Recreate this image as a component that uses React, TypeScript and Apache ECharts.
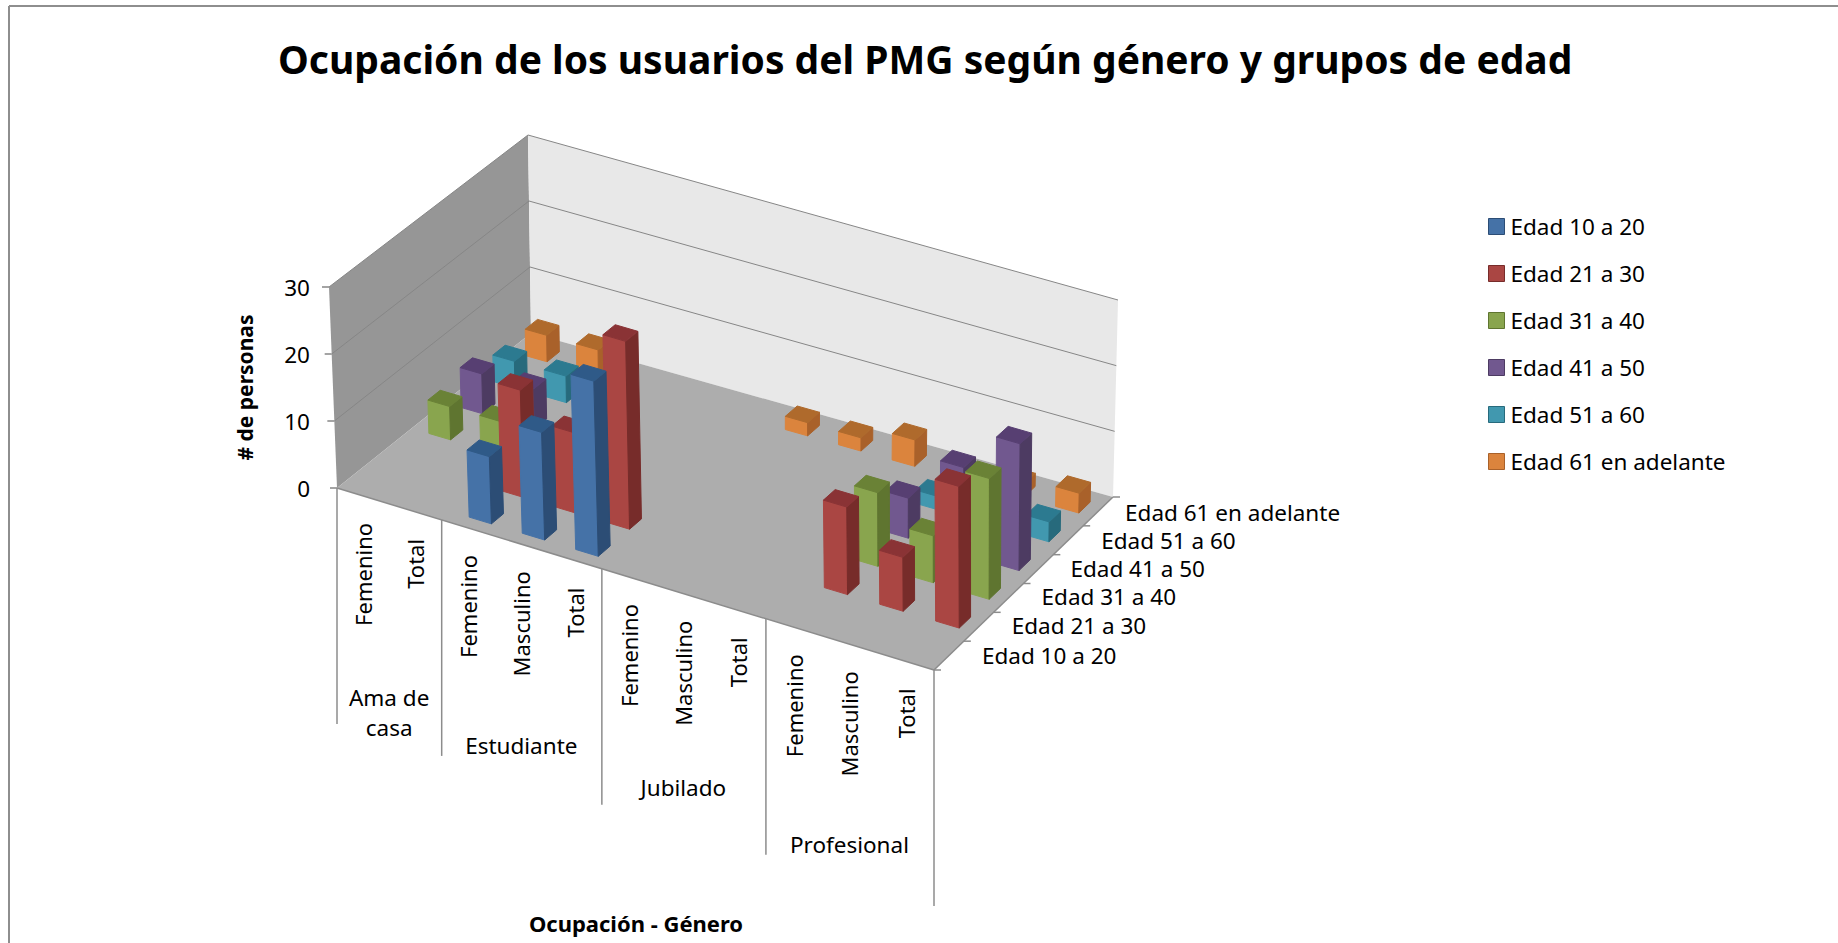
import React, { useEffect, useRef } from "react";
import * as echarts from "echarts";

const titleText = "Ocupación de los usuarios del PMG según género y grupos de edad";
const xAxisTitle = "Ocupación - Género";
const yAxisTitle = "# de personas";
const genderLabels = ["Femenino", "Total", "Femenino", "Masculino", "Total", "Femenino", "Masculino", "Total", "Femenino", "Masculino", "Total"];
const ageGroups = ["Edad 10 a 20", "Edad 21 a 30", "Edad 31 a 40", "Edad 41 a 50", "Edad 51 a 60", "Edad 61 en adelante"];
const yTicks = [0, 10, 20, 30];
const occupationGroups: [string, number, number, number][] = [["Ama de\ncasa", 0, 2, 209], ["Estudiante", 2, 5, 201], ["Jubilado", 5, 8, 194], ["Profesional", 8, 11, 200]];

const age10to20 = [null, null, 10, 16, 26, null, null, null, null, null, null];
const age21to30 = [null, null, 16, 12, 28, null, null, null, 13, 8, 21];
const age31to40 = [5, 5, null, null, null, null, null, null, 11, 7, 18];
const age41to50 = [6, 6, null, null, null, null, null, null, 6, 13, 19];
const age51to60 = [4, 4, null, null, null, null, null, null, 2, 1, 3];
const age61plus = [4, 4, null, null, null, 2, 2, 4, null, 2, 3];
const ageValues = [age10to20, age21to30, age31to40, age41to50, age51to60, age61plus];

const faceColors = [
  ["#4572A7", "#2C4D75", "#2F5A88"],
  ["#AA4643", "#772C2A", "#8A3335"],
  ["#89A54E", "#5F7530", "#6A8236"],
  ["#71588F", "#4D3B62", "#573F72"],
  ["#4198AF", "#276A7C", "#2C7A90"],
  ["#DB843D", "#A9612A", "#AF6A2C"],
];

const W = 1838, H = 943;
const gridLeft = 337, gridWidth = 597, gridTop = 287, gridHeight = 201;

type Pt = [number, number];
const floorA: Pt = [337, 488], floorB: Pt = [934, 670], floorC: Pt = [1113, 497], floorD: Pt = [531, 333];
const topA: Pt = [329, 287], topB: Pt = [932, 466], topC: Pt = [1118, 300], topD: Pt = [528, 135];

const lerp = (a: Pt, b: Pt, t: number): Pt => [a[0] + (b[0] - a[0]) * t, a[1] + (b[1] - a[1]) * t];
const warp = (u: number) => u / (1 + 0.045 * (1 - u));
function project(u: number, v: number, w: number): Pt {
  const uu = warp(u);
  const low = lerp(lerp(floorA, floorB, uu), lerp(floorD, floorC, uu), v);
  const high = lerp(lerp(topA, topB, uu), lerp(topD, topC, uu), v);
  return lerp(low, high, w);
}

const BAR_U = 0.21, BAR_V = 0.19, BAR_SHIFT = 0.004;

function barSeries(j: number) {
  return {
    type: "custom",
    name: ageGroups[j],
    xAxisIndex: 0,
    yAxisIndex: 0,
    clip: false,
    silent: true,
    itemStyle: { color: faceColors[j][0] },
    data: ageValues[j].map((v, i) => [i, v]).filter((d) => d[1] !== null),
    encode: { x: 0, y: 1 },
    renderItem: (_p: any, api: any) => {
      const top = api.coord([api.value(0), api.value(1)]);
      const size = api.size([1, 0])[0];
      const u = (top[0] - gridLeft) / gridWidth + BAR_SHIFT;
      const w = (gridTop + gridHeight - top[1]) / gridHeight;
      const du = (BAR_U * size) / gridWidth;
      const v = (j + 0.5) / ageGroups.length;
      const dv = BAR_V / ageGroups.length;
      const u0 = u - du, u1 = u + du, v0 = v - dv, v1 = v + dv;
      const face = (pts: Pt[], c: string) => ({
        type: "polygon",
        shape: { points: pts },
        style: { fill: c, stroke: c, lineWidth: 1 },
      });
      return {
        type: "group",
        children: [
          face([project(u0, v0, 0), project(u1, v0, 0), project(u1, v0, w), project(u0, v0, w)], faceColors[j][0]),
          face([project(u1, v0, 0), project(u1, v1, 0), project(u1, v1, w), project(u1, v0, w)], faceColors[j][1]),
          face([project(u0, v0, w), project(u1, v0, w), project(u1, v1, w), project(u0, v1, w)], faceColors[j][2]),
        ],
      };
    },
  };
}

function sceneGraphics() {
  const g: any[] = [];
  const line = (a: Pt, b: Pt, stroke: string, lineWidth = 1) => ({
    type: "line",
    shape: { x1: a[0], y1: a[1], x2: b[0], y2: b[1] },
    style: { stroke, lineWidth },
    silent: true,
  });
  const poly = (pts: Pt[], fill: string) => ({ type: "polygon", shape: { points: pts }, style: { fill }, silent: true });
  const font = '"Noto Sans", sans-serif';
  const text = (t: string, x: number, y: number, extra: any = {}) => ({
    type: "text",
    x,
    y,
    silent: true,
    rotation: extra.rotation ?? 0,
    style: {
      text: t,
      fill: "#000",
      font: `${extra.weight ?? "normal"} ${extra.size ?? 22.5}px ${font}`,
      align: extra.align ?? "center",
      verticalAlign: "middle",
      lineHeight: extra.lineHeight ?? 30,
    },
  });

  // frame
  g.push(line([9, 6], [9, H], "#8e8e8e", 2));
  g.push(line([9, 6], [W, 6], "#8e8e8e", 2));

  // walls and floor
  g.push(poly([project(0, 0, 0), project(0, 1, 0), project(0, 1, 1), project(0, 0, 1)], "#969696"));
  g.push(poly([project(0, 1, 0), project(1, 1, 0), project(1, 1, 1), project(0, 1, 1)], "#E8E8E8"));
  g.push(poly([project(0, 0, 0), project(1, 0, 0), project(1, 1, 0), project(0, 1, 0)], "#ADADAD"));

  // gridlines
  yTicks.forEach((t) => {
    const w = t / yTicks[yTicks.length - 1];
    if (t > 0) g.push(line(project(0, 0, w), project(0, 1, w), "#868686"));
    if (t > 0) g.push(line(project(0, 1, w), project(1, 1, w), "#868686"));
    const a = project(0, 0, w);
    g.push(line([a[0] - 7, a[1]], a, "#868686", 1.5));
  });
  g.push(line(project(0, 0, 0), project(1, 0, 0), "#8c8c8c", 1.5));
  g.push(line(project(1, 0, 0), project(1, 1, 0), "#8c8c8c", 1.5));

  // depth axis
  const depthOffsets: Pt[] = [[33, 0], [33, -1], [33, -1], [32, -1], [33, 0], [27, 1]];
  ageGroups.forEach((name, j) => {
    const t = project(1, (j + 1) / ageGroups.length, 0);
    g.push(line(t, [t[0] + 7, t[1]], "#8c8c8c", 1.5));
    const c = project(1, (j + 0.5) / ageGroups.length, 0);
    g.push(text(name, c[0] + depthOffsets[j][0], c[1] + depthOffsets[j][1], { align: "left" }));
  });
  const t0 = project(1, 0, 0);
  g.push(line(t0, [t0[0] + 7, t0[1]], "#8c8c8c", 1.5));

  // category labels and multi-level separators
  const n = genderLabels.length;
  genderLabels.forEach((name, i) => {
    const p = project((i + 0.5) / n, 0, 0);
    g.push(text(name, p[0], p[1] + 27, { align: "right", rotation: Math.PI / 2, size: 22 }));
  });
  occupationGroups.forEach(([name, s, e, drop]) => {
    const a = project(s / n, 0, 0);
    g.push(line(a, [a[0], a[1] + 236], "#8c8c8c", 1.5));
    const m = project((s + e) / 2 / n, 0, 0);
    g.push(text(name, m[0], m[1] + drop, {}));
  });
  const b = project(1, 0, 0);
  g.push(line(b, [b[0], b[1] + 236], "#8c8c8c", 1.5));

  g.push(text(xAxisTitle, 636, 923, { weight: "bold", size: 22 }));
  return g;
}

export default function App() {
  const ref = useRef<HTMLDivElement>(null);
  useEffect(() => {
    const chart = echarts.init(ref.current!, undefined, { renderer: "svg" });
    chart.setOption({
      animation: false,
      backgroundColor: "#fff",
      title: {
        text: titleText,
        left: 273,
        top: 34,
        textStyle: { fontFamily: '"Noto Sans", sans-serif', fontWeight: "bold", fontSize: 39, color: "#000" },
      },
      legend: {
        orient: "vertical",
        left: 1488,
        top: 215,
        padding: 0,
        itemWidth: 16,
        itemHeight: 16,
        itemGap: 24,
        icon: "rect",
        selectedMode: false,
        textStyle: { fontFamily: '"Noto Sans", sans-serif', fontSize: 22.5, color: "#000", padding: [0, 0, 0, 1] },
        data: ageGroups.map((name, j) => ({ name, itemStyle: { color: faceColors[j][0], borderColor: faceColors[j][1], borderWidth: 1 } })),
      },
      grid: { left: gridLeft, top: gridTop, width: gridWidth, height: gridHeight, containLabel: false },
      xAxis: { type: "category", data: genderLabels, show: false },
      yAxis: {
        type: "value",
        min: 0,
        max: 30,
        interval: 10,
        name: yAxisTitle,
        nameLocation: "middle",
        nameGap: 82,
        nameTextStyle: { fontFamily: '"Noto Sans", sans-serif', fontWeight: "bold", fontSize: 21, color: "#000" },
        axisLine: { show: false },
        axisTick: { show: false },
        splitLine: { show: false },
        axisLabel: { margin: 27, fontFamily: '"Noto Sans", sans-serif', fontSize: 22.5, color: "#000" },
      },
      graphic: { elements: sceneGraphics() },
      series: ageGroups.map((_, j) => barSeries(j)).reverse(),
    });
    return () => chart.dispose();
  }, []);
  return <div ref={ref} style={{ position: "absolute", left: 0, top: 0, width: W, height: H }} />;
}
